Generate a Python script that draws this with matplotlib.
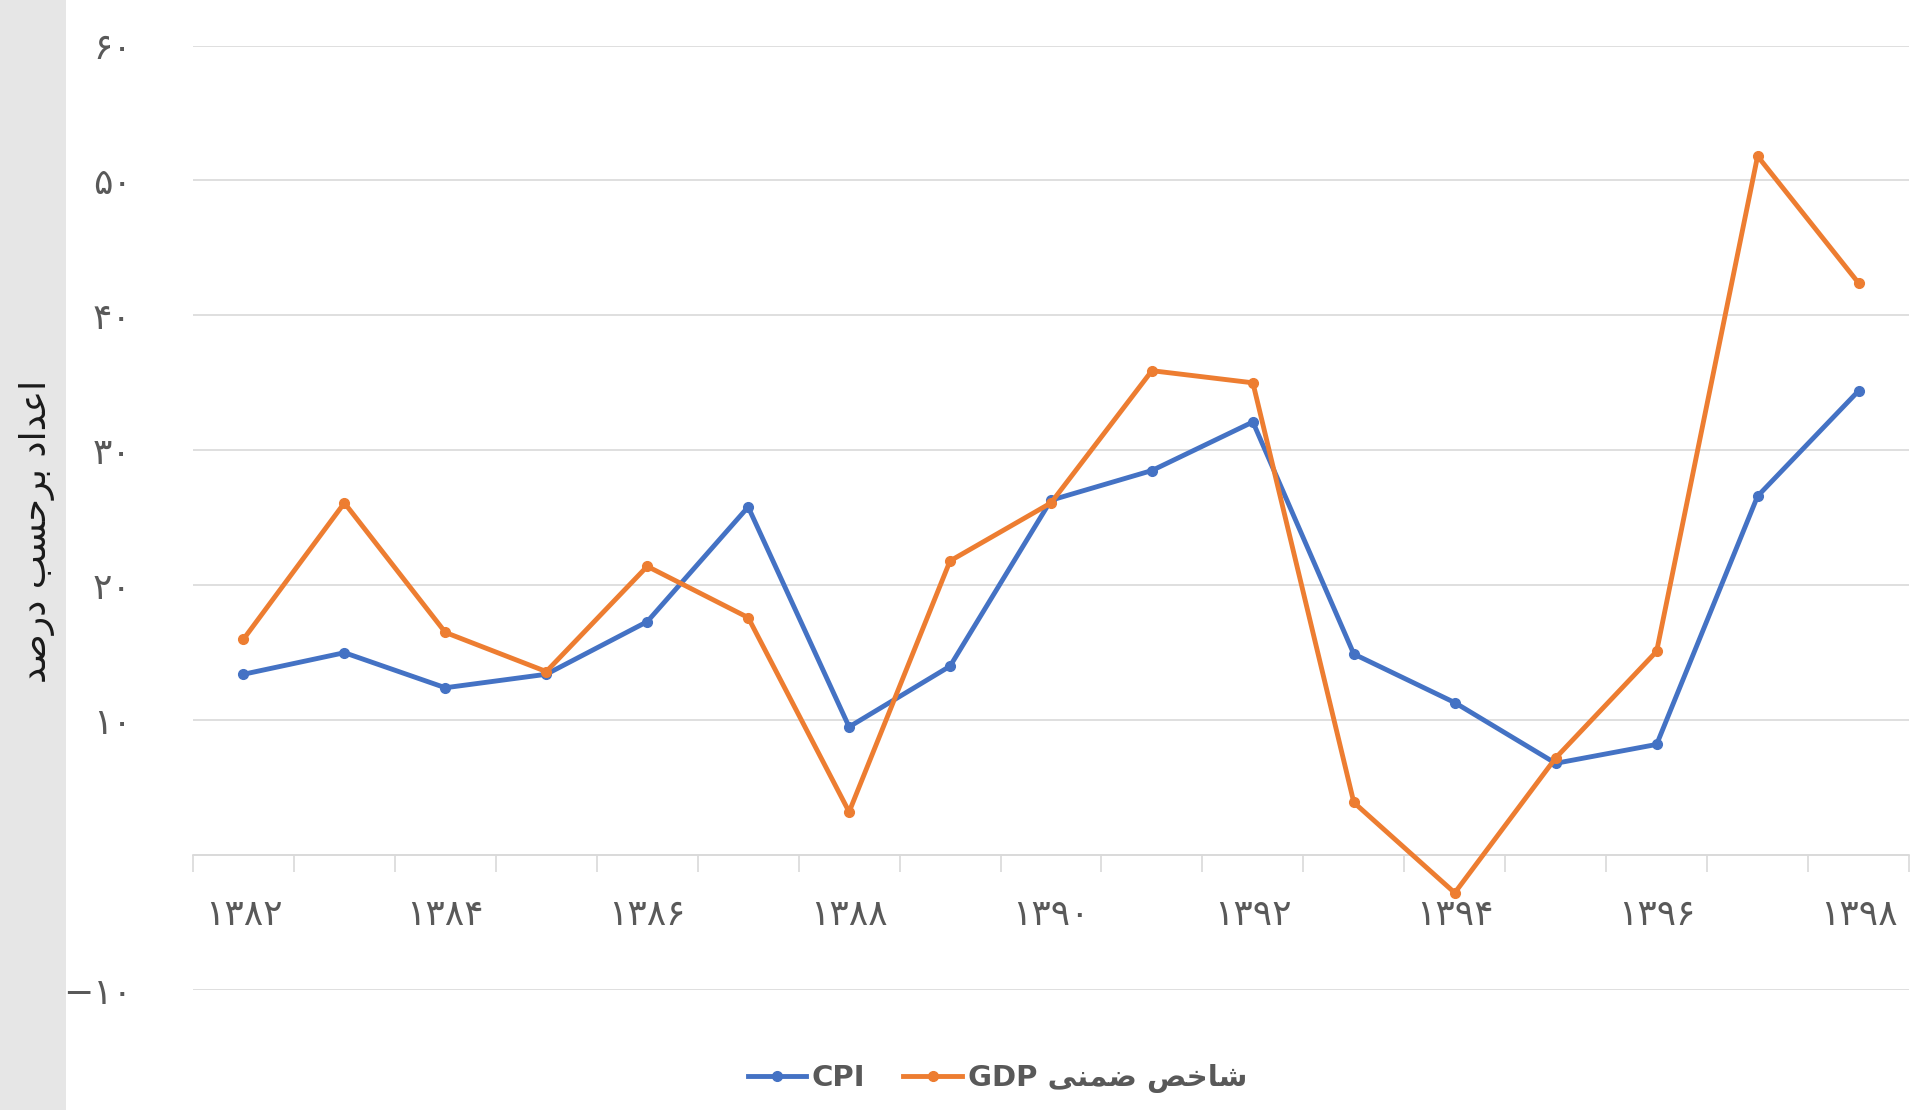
import matplotlib.pyplot as plt
from matplotlib.patches import Rectangle
from matplotlib.ticker import FixedLocator, NullFormatter

# years 1382..1398 (Persian calendar)
years = list(range(1382, 1399))
cpi = [13.4, 15.0, 12.4, 13.4, 17.3, 25.8, 9.5, 14.0, 26.3, 28.5, 32.1,
       14.9, 11.3, 6.8, 8.2, 26.6, 34.4]
gdp_deflator = [16.0, 26.1, 16.5, 13.6, 21.4, 17.6, 3.2, 21.8, 26.1, 35.9, 35.0,
                3.9, -2.8, 7.2, 15.1, 51.8, 42.4]
y_ticks = [-10, 0, 10, 20, 30, 40, 50, 60]

ylabel_text = 'اعداد برحسب درصد'
gdp_label_fa = 'شاخص ضمنی'

BLUE = '#4472C4'
ORANGE = '#ED7D31'
GRID = '#D9D9D9'
TEXT = '#595959'

# --- minimal Persian shaping (matplotlib has no bidi / joining support) ---
FORMS = {  # iso, fin, ini, med
    'ا': ('\uFE8D', '\uFE8E', None, None),
    'د': ('\uFEA9', '\uFEAA', None, None),
    'ر': ('\uFEAD', '\uFEAE', None, None),
    'ب': ('\uFE8F', '\uFE90', '\uFE91', '\uFE92'),
    'ح': ('\uFEA1', '\uFEA2', '\uFEA3', '\uFEA4'),
    'خ': ('\uFEA5', '\uFEA6', '\uFEA7', '\uFEA8'),
    'س': ('\uFEB1', '\uFEB2', '\uFEB3', '\uFEB4'),
    'ش': ('\uFEB5', '\uFEB6', '\uFEB7', '\uFEB8'),
    'ص': ('\uFEB9', '\uFEBA', '\uFEBB', '\uFEBC'),
    'ض': ('\uFEBD', '\uFEBE', '\uFEBF', '\uFEC0'),
    'ع': ('\uFEC9', '\uFECA', '\uFECB', '\uFECC'),
    'م': ('\uFEE1', '\uFEE2', '\uFEE3', '\uFEE4'),
    'ن': ('\uFEE5', '\uFEE6', '\uFEE7', '\uFEE8'),
    'ی': ('\uFEEF', '\uFEF0', '\uFEF3', '\uFEF4'),
}


def rtl(text):
    out = []
    for i, ch in enumerate(text):
        if ch not in FORMS:
            out.append(ch)
            continue
        iso, fin, ini, med = FORMS[ch]
        prev = text[i - 1] if i > 0 else ''
        nxt = text[i + 1] if i + 1 < len(text) else ''
        j_prev = prev in FORMS and FORMS[prev][2] is not None
        j_next = ini is not None and nxt in FORMS
        if j_prev and j_next:
            out.append(med)
        elif j_prev:
            out.append(fin)
        elif j_next:
            out.append(ini)
        else:
            out.append(iso)
    return ''.join(reversed(out))


FA_DIGITS = str.maketrans('0123456789-', '۰۱۲۳۴۵۶۷۸۹−')


def fa_num(v):
    return str(v).translate(FA_DIGITS)


plt.rcParams['font.family'] = ['DejaVu Sans']

fig = plt.figure(figsize=(19.29, 11.10), dpi=100)
fig.patches.append(Rectangle((0, 0), 66 / 1929, 1, transform=fig.transFigure,
                             facecolor='#E6E6E6', edgecolor='none', zorder=-5))
ax = fig.add_axes([193 / 1929, 120 / 1110, 1716 / 1929, 944.5 / 1110])
ax.set_zorder(1)
ax.patch.set_alpha(0)

x = list(range(len(years)))
ax.plot(x, cpi, color=BLUE, lw=3.5, marker='o', ms=7, label='CPI', zorder=3)
ax.plot(x, gdp_deflator, color=ORANGE, lw=3.5, marker='o', ms=7,
        label='GDP ' + rtl(gdp_label_fa), zorder=3)

ax.set_xlim(-0.5, len(years) - 0.5)
ax.set_ylim(-10, 60)

for s in ['top', 'right', 'left']:
    ax.spines[s].set_visible(False)
ax.spines['bottom'].set_position(('data', 0))
ax.spines['bottom'].set_color(GRID)
ax.spines['bottom'].set_linewidth(1.2)

# category boundary ticks and year labels on the zero line
ax.xaxis.set_major_locator(FixedLocator([i - 0.5 for i in range(len(years) + 1)]))
ax.xaxis.set_major_formatter(NullFormatter())
ax.tick_params(axis='x', which='major', length=12, width=1.2, color=GRID)
label_pos = [i for i, yr in enumerate(years) if yr % 2 == 0]
ax.xaxis.set_minor_locator(FixedLocator(label_pos))
ax.set_xticklabels([fa_num(years[i]) for i in label_pos], minor=True)
ax.tick_params(axis='x', which='minor', length=0, pad=31, labelsize=26,
               labelcolor=TEXT)

ax.set_yticks(y_ticks)
ax.set_yticklabels(['' if v == 0 else fa_num(v) for v in y_ticks])
ax.tick_params(axis='y', length=0, pad=44, labelsize=26, labelcolor=TEXT)
ax.yaxis.grid(True, color=GRID, lw=1.2)
ax.set_axisbelow(True)

ax.set_ylabel(rtl(ylabel_text), fontsize=26, color='#1a1a1a', va='center')
ax.yaxis.set_label_coords(-0.091, 0.485)

leg = ax.legend(loc='center', bbox_to_anchor=(0.517, 0.028),
                bbox_transform=fig.transFigure, ncol=2, frameon=False,
                handlelength=2.0, columnspacing=1.3, handletextpad=0.2,
                prop={'size': 21, 'weight': 'bold'})
for t in leg.get_texts():
    t.set_color(TEXT)

fig.savefig('out.png', dpi=100)
